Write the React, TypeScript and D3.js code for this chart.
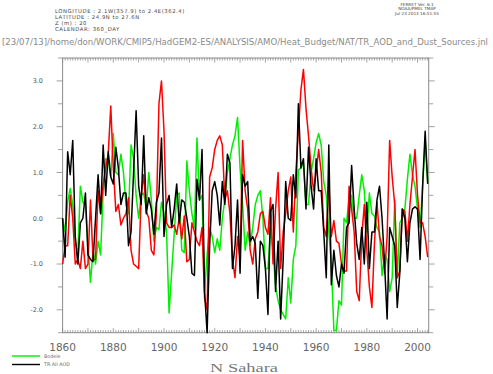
import * as d3 from 'd3';

const years: number[] = d3.range(1860, 2005);

// TR All AOD (black)
const trAllAod: number[] = [
	0.0, -0.85, 1.45, 0.95, 1.7, -0.4, -1.0, -0.1, 0.0, 0.55,
	-0.8, -0.9, -0.95, 0.0, 0.95, 0.1, 1.6, 0.5, 1.45, 0.9,
	0.75, 1.55, 1.1, 0.3, 0.55, 0.55, -0.6, -0.3, 1.0, 2.35,
	0.7, 0.3, 1.8, 0.1, 0.45, 0.2, -0.35, 0.35, 0.55, 1.75,
	-0.4, 0.3, 0.5, -0.2, 0.2, 0.75, -0.1, 0.4, 0.35, 0.0,
	-0.4, -1.2, -1.25, 0.85, 0.4, 1.5, -1.6, -2.5, -0.6, 0.6,
	0.8, 0.5, -0.15, 0.8, 0.3, 1.4, 1.2, -1.1, -0.6, 0.4,
	-1.2, 0.95, 0.7, 0.8, -0.5, -0.4, -0.55, -1.75, -0.5, -0.6,
	-1.1, -2.1, 0.15, 0.3, -1.6, -0.5, -2.2, -0.9, 0.8, 0.0,
	-0.05, 0.95, 0.45, 2.5, 1.1, 1.3, 0.2, 1.55, 0.7, 0.2,
	1.3, 0.6, 0.6, -0.3, -1.3, 1.6, -1.45, -0.7, -1.25, -1.5,
	-1.0, -1.2, -0.2, -0.1, 1.15, 0.2, -0.55, -0.9, -0.2, -1.0,
	0.35, -1.1, -0.3, -0.3, 0.4, 0.7, 0.0, -1.0, -2.2, -0.2,
	-0.4, -0.6, -1.95, -1.2, 0.2, 0.0, -0.95, -0.1, 0.2, 0.25,
	0.2, -0.9, 0.7, 1.9, 0.75,
];

// Bodele (green)
const bodele: number[] = [
	0.0, -0.3, 0.35, 0.65, 0.3, -0.5, -0.8, 0.7, 0.35, 0.3,
	-0.6, -1.4, -0.7, -1.0, -0.5, -0.8, 0.6, 1.3, 1.25, 0.9,
	1.85, 1.0, 0.95, 1.4, 1.0, 0.3, 0.1, 1.6, 1.3, 0.5,
	0.0, 0.5, 0.55, 0.2, 1.0, 0.4, -0.5, -0.2, -0.25, 0.35,
	0.1, -0.3, -2.07, -1.2, -0.35, 0.5, 0.55, -0.7, -0.75, 1.25,
	0.6, 0.1, -0.2, 1.75, 0.4, 0.5, -1.6, -0.8, -0.2, -0.4,
	-0.75, -0.45, -0.7, 0.0, 0.4, 1.0, 1.3, 1.6, 1.8, 2.2,
	1.1, 0.3, -0.7, -0.3, -0.6, -0.2, 0.3, 0.5, 0.6, 0.0,
	-1.1, -1.1, -0.2, -0.7, -1.5, -1.8, -2.0, -2.1, -2.2, -1.3,
	-1.85, -0.9, -0.6, 1.05, 1.1, 1.2, 0.3, 0.3, 1.0, 1.3,
	1.65, 1.85, 1.6, 0.8, 0.5, -0.3, -1.0, -2.45, -2.45, -1.8,
	-1.9, 0.0, -0.1, 0.45, 0.5, 0.0, 0.0, 0.5, 0.95, 0.6,
	-0.3, 0.55, 0.1, 0.05, -0.2, -0.3, -1.25, -0.8, -0.9, -1.6,
	-1.3, 0.4, -1.3, -0.1, 0.0, 0.2, 0.85, 1.4, 0.95, 0.7,
	0.2, -0.2, 0.7, 1.7, 0.8,
];

// third source (red), not in the legend
const redSeries: number[] = [
	-1.0, -0.6, -0.6, 0.5, 0.0, -1.0, -0.9, -1.1, -0.5, -1.1,
	-1.0, 0.4, -0.9, -0.9, 0.6, 0.1, 0.75, 1.1, 1.4, 2.45,
	1.1, 0.15, 0.3, -0.15, 0.0, 0.1, 0.45, -0.7, -1.0, -1.05,
	-1.1, 0.5, 0.95, 0.15, 0.0, -0.7, -0.8, 0.1, 2.5, 3.0,
	1.9, -0.1, -0.2, -0.2, -0.15, -0.35, 0.0, -0.45, 0.05, -0.95,
	-0.9, -0.1, -0.3, -0.5, -0.6, -0.2, -1.75, -2.0, 0.9, 1.1,
	1.5, 1.7, 1.8, 1.6, 0.4, 0.6, 0.1, -0.9, -1.3, -0.4,
	-0.9, 1.7, 0.6, 0.2, -0.7, -1.0, -0.45, -0.3, 0.1, 0.15,
	-0.2, -0.35, 0.45, -1.0, 0.2, 1.0, -1.1, -0.3, 0.1, 0.6,
	0.9, -0.3, 1.0, 1.9, 2.8, 3.25, 2.4, 1.8, 1.1, 0.6,
	1.0, 1.5, 1.0, -0.2, -0.4, 0.75, -0.4, -0.05, -0.5, -0.55,
	-1.0, -1.15, -1.15, 0.7, 0.2, -0.3, -1.6, -1.8, -0.4, 0.3,
	-0.7, -1.5, -1.95, -0.55, 0.35, -0.4, -0.6, -1.2, -0.4, 1.7,
	0.9, 0.3, -1.3, -1.15, 0.2, 0.15, -0.5, 0.3, 0.9, 1.5,
	0.5, -0.1, -0.1, -0.4, -0.85,
];

const xTickYears: number[] = [1860, 1880, 1900, 1920, 1940, 1960, 1980, 2000];
const yTickValues: number[] = [-2, -1, 0, 1, 2, 3];

const headerLines: string[] = [
	'LONGITUDE : 2.1W(357.9) to 2.4E(362.4)',
	'LATITUDE : 24.9N to 27.6N',
	'Z (m) : 20',
	'CALENDAR: 360_DAY',
];
const stampLines: string[] = ['FERRET Ver. 6.1', 'NOAA/PMEL TMAP', 'Jul 23 2013 16:51:55'];
const pathLine = '[23/07/13]/home/don/WORK/CMIP5/HadGEM2-ES/ANALYSIS/AMO/Heat_Budget/NAT/TR_AOD_and_Dust_Sources.jnl';

const W = 493;
const H = 374;
const left = 62.6, right = 428.7, top = 58, bottom = 332.7;
const axisColor = '#8a8a8a';
const labelColor = '#555';
const sans = '"DejaVu Sans", sans-serif';

export default function App() {
	const x = d3.scaleLinear().domain([1860, 2004.4]).range([left, right]);
	const y = d3.scaleLinear().domain([-2.5, 3.5]).range([bottom, top]);

	const line = d3.line<number>()
		.x((_, i) => x(years[i]))
		.y(d => y(d));

	const minorYears = d3.range(1860, 2005);
	const halfTicks = d3.range(-2.5, 3.51, 0.5);

	return (
		<svg width={W} height={H} style={{ position: 'absolute', left: 0, top: 0, background: '#fff' }}>
			{/* header */}
			{headerLines.map((t, i) => (
				<text key={t} x={55} y={12.5 + i * 6} fontSize={5.3} letterSpacing={0.55} fill="#444" fontFamily={sans}>{t}</text>
			))}
			{stampLines.map((t, i) => (
				<text key={t} x={417} y={5.5 + i * 4.6} fontSize={4.2} fill="#444" fontFamily={sans} textAnchor="middle">{t}</text>
			))}
			<text x={2} y={45} fontSize={8.4} fill="#8a8a8a" fontFamily={sans} textLength={486} lengthAdjust="spacingAndGlyphs">{pathLine}</text>

			{/* frame */}
			<rect x={left} y={top} width={right - left} height={bottom - top} fill="none" stroke={axisColor} strokeWidth={1} />

			{/* year ticks on bottom and top, pointing inward */}
			{minorYears.map(yr => {
				const len = yr % 10 === 0 ? 4.5 : 2.5;
				return (
					<g key={yr} stroke={axisColor} strokeWidth={0.8}>
						<line x1={x(yr)} x2={x(yr)} y1={bottom} y2={bottom - len} />
						<line x1={x(yr)} x2={x(yr)} y1={top} y2={top + len} />
					</g>
				);
			})}
			{xTickYears.map(yr => (
				<text key={yr} x={x(yr)} y={350.5} fontSize={10.5} fill="#666" fontFamily={sans} textAnchor="middle">{yr}</text>
			))}

			{/* value ticks on left and right, pointing outward */}
			{halfTicks.map(v => {
				const major = Math.abs(v - Math.round(v)) < 1e-6;
				const len = major ? 6 : 4.5;
				return (
					<g key={v} stroke={axisColor} strokeWidth={0.8}>
						<line x1={left} x2={left - len} y1={y(v)} y2={y(v)} />
						<line x1={right} x2={right + len} y1={y(v)} y2={y(v)} />
					</g>
				);
			})}
			{yTickValues.map(v => (
				<text key={v} x={43} y={y(v) + 2.3} fontSize={6.5} fill={labelColor} fontFamily={sans} textAnchor="end">{v.toFixed(1)}</text>
			))}

			{/* series */}
			<path d={line(bodele) ?? ''} fill="none" stroke="#00ee00" strokeWidth={1.5} strokeLinejoin="round" />
			<path d={line(redSeries) ?? ''} fill="none" stroke="#ff0000" strokeWidth={1.5} strokeLinejoin="round" />
			<path d={line(trAllAod) ?? ''} fill="none" stroke="#000" strokeWidth={1.5} strokeLinejoin="round" />

			{/* legend */}
			<line x1={12} x2={40} y1={356} y2={356} stroke="#00ee00" strokeWidth={1.4} />
			<text x={44} y={357.8} fontSize={4.8} fill="#666" fontFamily={sans}>Bodele</text>
			<line x1={12} x2={40} y1={364.5} y2={364.5} stroke="#000" strokeWidth={1.4} />
			<text x={44} y={366.3} fontSize={4.8} fill="#666" fontFamily={sans}>TR All AOD</text>

			{/* title */}
			<text x={244} y={372} fontSize={12.5} fill="#777" fontFamily='"Liberation Serif", serif' textAnchor="middle" textLength={68} lengthAdjust="spacingAndGlyphs">N Sahara</text>
		</svg>
	);
}
